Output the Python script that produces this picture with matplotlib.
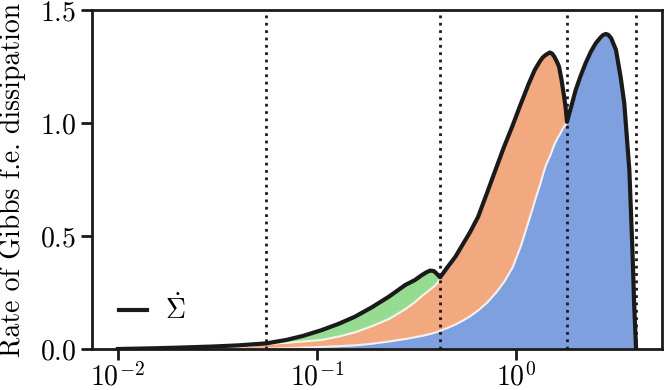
import numpy as np
import matplotlib
matplotlib.use("Agg")
import matplotlib.pyplot as plt

# Police de type LaTeX (Computer Modern)
plt.rcParams["font.family"] = ["cmr10", "DejaVu Serif"]
plt.rcParams["mathtext.fontset"] = "cm"
plt.rcParams["axes.formatter.use_mathtext"] = True
plt.rcParams["font.size"] = 20

# Abscisses
x = [0.01, 0.015, 0.02, 0.03, 0.04, 0.0557, 0.07, 0.085, 0.105, 0.128,
     0.155, 0.188, 0.229, 0.277, 0.31, 0.336, 0.355, 0.37, 0.385, 0.395,
     0.405, 0.415, 0.45, 0.495, 0.531, 0.585, 0.644, 0.71, 0.787, 0.865,
     0.955, 1.05, 1.159, 1.24, 1.32, 1.36, 1.40, 1.475, 1.51, 1.55,
     1.60, 1.64, 1.69, 1.74, 1.77, 1.8, 1.9, 1.99, 2.1, 2.23,
     2.37, 2.51, 2.65, 2.73, 2.82, 2.9, 3.0, 3.17, 3.35, 3.49,
     3.6, 3.70, 3.84, 3.91, 4.0]

# Contributions empilées (bleu en bas, puis orange, vert, premier régime)
bleu = [0.0, 0.0003, 0.0006, 0.0015, 0.0025, 0.004, 0.006, 0.009, 0.012, 0.015,
        0.019, 0.026, 0.036, 0.047, 0.055, 0.061, 0.066, 0.070, 0.074, 0.077,
        0.080, 0.084, 0.096, 0.112, 0.126, 0.148, 0.175, 0.208, 0.252, 0.300,
        0.365, 0.460, 0.580, 0.665, 0.740, 0.780, 0.815, 0.860, 0.885, 0.910,
        0.935, 0.950, 0.972, 0.990, 0.998, 1.005, 1.080, 1.146, 1.205, 1.264,
        1.315, 1.353, 1.378, 1.389, 1.394, 1.390, 1.375, 1.323, 1.200, 1.087,
        0.930, 0.792, 0.423, 0.202, 0.0]
orange = [0.0, 0.0017, 0.0034, 0.0065, 0.0095, 0.021, 0.024, 0.027, 0.031, 0.043,
          0.058, 0.078, 0.100, 0.133, 0.157, 0.178, 0.189, 0.198, 0.206, 0.213,
          0.223, 0.233, 0.264, 0.296, 0.327, 0.367, 0.410, 0.477, 0.540, 0.590,
          0.619, 0.620, 0.596, 0.570, 0.535, 0.510, 0.485, 0.452, 0.423, 0.385,
          0.337, 0.300, 0.218, 0.127, 0.072, 0.0, 0.0, 0.0, 0.0, 0.0,
          0.0, 0.0, 0.0, 0.0, 0.0, 0.0, 0.0, 0.0, 0.0, 0.0,
          0.0, 0.0, 0.0, 0.0, 0.0]
vert = [0.0, 0.0, 0.0, 0.0, 0.0, 0.0, 0.010, 0.022, 0.040, 0.053,
        0.066, 0.080, 0.095, 0.103, 0.093, 0.088, 0.085, 0.079, 0.065, 0.047,
        0.024, 0.0, 0.0, 0.0, 0.0, 0.0, 0.0, 0.0, 0.0, 0.0,
        0.0, 0.0, 0.0, 0.0, 0.0, 0.0, 0.0, 0.0, 0.0, 0.0,
        0.0, 0.0, 0.0, 0.0, 0.0, 0.0, 0.0, 0.0, 0.0, 0.0,
        0.0, 0.0, 0.0, 0.0, 0.0, 0.0, 0.0, 0.0, 0.0, 0.0,
        0.0, 0.0, 0.0, 0.0, 0.0]
premier = [0.0, 0.001, 0.002, 0.003, 0.004, 0.0, 0.0, 0.0, 0.0, 0.0,
           0.0, 0.0, 0.0, 0.0, 0.0, 0.0, 0.0, 0.0, 0.0, 0.0,
           0.0, 0.0, 0.0, 0.0, 0.0, 0.0, 0.0, 0.0, 0.0, 0.0,
           0.0, 0.0, 0.0, 0.0, 0.0, 0.0, 0.0, 0.0, 0.0, 0.0,
           0.0, 0.0, 0.0, 0.0, 0.0, 0.0, 0.0, 0.0, 0.0, 0.0,
           0.0, 0.0, 0.0, 0.0, 0.0, 0.0, 0.0, 0.0, 0.0, 0.0,
           0.0, 0.0, 0.0, 0.0, 0.0]

# Limites des régimes (traits pointillés)
limites = [0.0557, 0.415, 1.8, 4.0]

couleurs = ["#4878d0", "#ee854a", "#6acc64", "none"]
noir = "#1a1a1a"

total = np.array(bleu) + np.array(orange) + np.array(vert) + np.array(premier)

fig = plt.figure(figsize=(6.64, 3.9), dpi=100)
ax = fig.add_axes([92 / 664, 41 / 390, 570 / 664, 339 / 390])

ax.stackplot(x, bleu, orange, vert, premier, colors=couleurs, alpha=0.7,
             edgecolor="white", linewidth=1.5)
for lim in limites:
    ax.axvline(lim, color=noir, linestyle=":", linewidth=2.0, zorder=3)
ax.plot(x, total, color=noir, linewidth=3.0, zorder=4, label=r"$\dot{\Sigma}$",
        solid_joinstyle="round")

ax.set_xscale("log")
ax.set_ylim(0, 1.5)
ax.set_yticks([0.0, 0.5, 1.0, 1.5])
ax.minorticks_off()
ax.set_ylabel("Rate of Gibbs f.e. dissipation")
ax.yaxis.set_label_coords(-0.115, 0.5)

for spine in ax.spines.values():
    spine.set_linewidth(2.0)
    spine.set_color(noir)
ax.tick_params(width=2.0, length=8, color=noir)
ax.tick_params(axis="x", pad=1.5)

ax.legend(loc="center left", bbox_to_anchor=(0.023, 0.115), frameon=False,
          borderpad=0, handlelength=1.0, handletextpad=0.65, fontsize=20)

fig.savefig("out.png", dpi=100)
